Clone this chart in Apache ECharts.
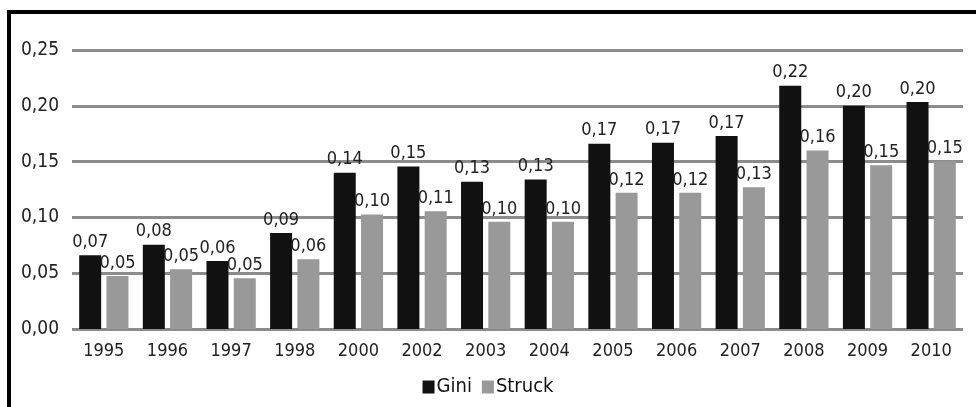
<!DOCTYPE html>
<html>
<head>
<meta charset="utf-8">
<script src="https://cdn.jsdelivr.net/npm/echarts@6/dist/echarts.min.js"></script>
<style>
  html, body { margin: 0; padding: 0; background: #fff; }
  #chart { width: 976px; height: 407px; }
</style>
</head>
<body>
<div id="chart"></div>
<script>
// anni
var years = ['1995', '1996', '1997', '1998', '2000', '2002', '2003', '2004', '2005', '2006', '2007', '2008', '2009', '2010'];
// valori
var gini = [0.066, 0.0755, 0.061, 0.086, 0.140, 0.1455, 0.132, 0.134, 0.166, 0.167, 0.173, 0.218, 0.200, 0.2035];
var struck = [0.0475, 0.0535, 0.0455, 0.0625, 0.1025, 0.1055, 0.096, 0.096, 0.122, 0.122, 0.127, 0.160, 0.1467, 0.150];

var font = '"Liberation Sans Narrow", "DejaVu Sans Condensed", "Liberation Sans", sans-serif';
var fmt = function (v) { return v.toFixed(2).replace('.', ','); };

var chart = echarts.init(document.getElementById('chart'));
chart.setOption({
    animation: false,
    textStyle: { fontFamily: font },
    grid: { left: 72, right: 13, top: 50, bottom: 78 },
    legend: {
        bottom: 5,
        left: 'center',
        itemWidth: 12,
        itemHeight: 13,
        itemGap: 10,
        icon: 'rect',
        textStyle: { fontFamily: font, fontSize: 20, color: '#111', padding: [0, 0, 0, -3] },
        data: ['Gini', 'Struck']
    },
    xAxis: {
        type: 'category',
        data: years,
        axisLine: { show: false },
        axisTick: { show: false },
        axisLabel: { fontFamily: font, fontSize: 18, color: '#222', margin: 13 }
    },
    yAxis: {
        type: 'value',
        min: 0,
        max: 0.25,
        interval: 0.05,
        axisLine: { show: false },
        axisTick: { show: false },
        axisLabel: { fontFamily: font, fontSize: 19, color: '#222', margin: 13, formatter: fmt },
        splitLine: { lineStyle: { color: '#8c8c8c', width: 3 } }
    },
    series: [{
        name: 'Gini',
        type: 'bar',
        data: gini,
        barWidth: 22,
        barGap: '24%',
        itemStyle: { color: '#111111' },
        label: {
            show: true, position: 'top', distance: 4,
            fontFamily: font, fontSize: 18, color: '#222',
            formatter: function (p) { return fmt(p.value); }
        }
    }, {
        name: 'Struck',
        type: 'bar',
        data: struck,
        barWidth: 22,
        itemStyle: { color: '#999999' },
        label: {
            show: true, position: 'top', distance: 4,
            fontFamily: font, fontSize: 18, color: '#222',
            formatter: function (p) { return fmt(p.value); }
        }
    }],
    graphic: [{
        type: 'polyline',
        shape: { points: [[9, 407], [9, 12], [976, 12]] },
        style: { stroke: '#000', lineWidth: 4, fill: null }
    }]
});
</script>
</body>
</html>
